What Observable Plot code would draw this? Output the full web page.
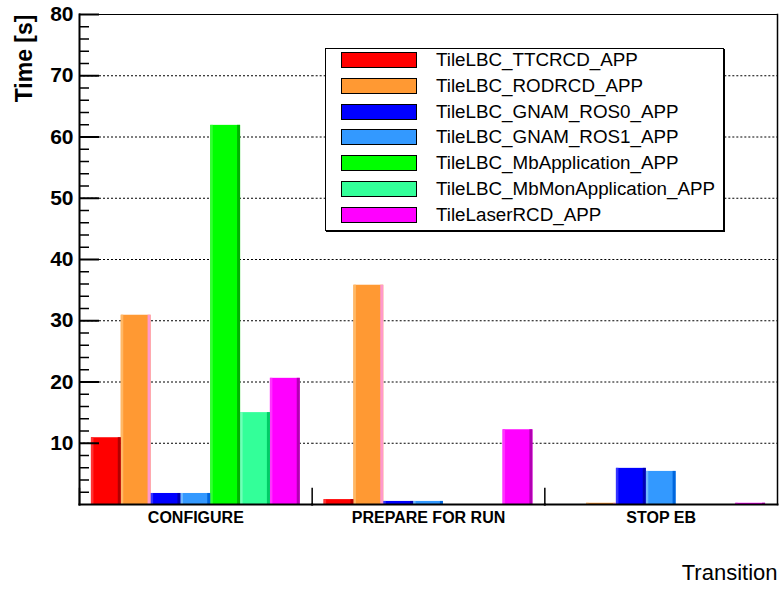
<!DOCTYPE html>
<html><head><meta charset="utf-8">
<script src="https://cdn.jsdelivr.net/npm/d3@7"></script>
<script src="https://cdn.jsdelivr.net/npm/@observablehq/plot@0.6"></script>
<style>
body{margin:0;background:#fff;font-family:"Liberation Sans",Arial,sans-serif}
#wrap{position:relative;width:782px;height:589px}
#legend{position:absolute;left:325px;top:48px;width:397px;height:181px;border:1px solid #000;box-shadow:1px 1px 0 #000;background:#fff}
.sw{position:absolute;left:15px;width:74px;height:14px;border:1px solid #000}
.lab{position:absolute;left:110px;font-size:18.8px;line-height:20px;white-space:nowrap;color:#000}
</style>
</head><body>
<div id="wrap"><div id="chart"></div><div id="legend"></div></div>
<script>
const categories = ["CONFIGURE", "PREPARE FOR RUN", "STOP EB"];
const series = ["TileLBC_TTCRCD_APP", "TileLBC_RODRCD_APP", "TileLBC_GNAM_ROS0_APP", "TileLBC_GNAM_ROS1_APP", "TileLBC_MbApplication_APP", "TileLBC_MbMonApplication_APP", "TileLaserRCD_APP"];
const ttcrcd = [10.9, 0.8, 0];
const rodrcd = [30.9, 35.8, 0.2];
const gnamRos0 = [1.8, 0.5, 5.9];
const gnamRos1 = [1.8, 0.5, 5.4];
const mbApplication = [61.9, 0, 0];
const mbMonApplication = [15.0, 0, 0];
const laserRcd = [20.6, 12.2, 0.2];
const baseColors = ["#ff0000", "#ff9933", "#0000ff", "#3399ff", "#00ff00", "#33ff99", "#ff00ff"];
const lightColors = ["#ff3333", "#ffb866", "#3333ff", "#70b8ff", "#33ff33", "#70ffb8", "#ff33ff"];
const darkColors = ["#b20000", "#ff99cc", "#0000b2", "#0066dd", "#00b200", "#00cc66", "#b200b2"];
const majorTicks = [10, 20, 30, 40, 50, 60, 70, 80];
const minorTicks = d3.range(2, 80, 2).filter(v => v % 10 !== 0);

const values = [ttcrcd, rodrcd, gnamRos0, gnamRos1, mbApplication, mbMonApplication, laserRcd];
const rows = categories.flatMap((c, ci) => series.map((s, si) => ({
  category: c, series: s, value: values[si][ci],
  base: baseColors[si], light: lightColors[si], dark: darkColors[si]
})));

const W = 782, H = 589, ML = 79, MR = 5, MT = 14, MB = 85;
const padOuter = 0.4;
const facetW = (W - ML - MR) / categories.length;
const plotH = H - MT - MB;
const bandW = facetW / (series.length + 2 * padOuter);
const font = "'Liberation Sans', Arial, Helvetica, sans-serif";
const firstCat = () => categories[0];

const chart = Plot.plot({
  width: W, height: H,
  marginLeft: ML, marginRight: MR, marginTop: MT, marginBottom: MB,
  style: {fontFamily: font, background: "white", color: "#000"},
  fx: {domain: categories, padding: 0, round: false},
  x: {domain: series, paddingInner: 0, paddingOuter: padOuter, round: false, axis: null},
  y: {domain: [0, 80]},
  color: {type: "identity"},
  marks: [
    Plot.ruleY(majorTicks, {y: d => d, stroke: "#000", strokeWidth: 1, strokeDasharray: "2,2"}),
    Plot.barY(rows, {fx: "category", x: "series", y: "value", fill: "base"}),
    Plot.barY(rows, {fx: "category", x: "series", y: "value", fill: "light", insetRight: bandW - 2.5}),
    Plot.barY(rows, {fx: "category", x: "series", y: "value", fill: "dark", insetLeft: bandW - 3}),
    Plot.ruleY(majorTicks, {fx: firstCat, y: d => d, stroke: "#000", strokeWidth: 2, insetRight: facetW - 20}),
    Plot.ruleY(minorTicks, {fx: firstCat, y: d => d, stroke: "#000", strokeWidth: 1.5, insetRight: facetW - 10}),
    Plot.frame({anchor: "top", stroke: "#000", strokeWidth: 1}),
    Plot.frame({anchor: "bottom", stroke: "#000", strokeWidth: 2}),
    Plot.frame({anchor: "left", stroke: "#000", strokeWidth: 2, facetAnchor: "left"}),
    Plot.frame({anchor: "right", stroke: "#000", strokeWidth: 1.5, facetAnchor: "right"}),
    Plot.frame({anchor: "left", stroke: "#000", strokeWidth: 1.5, insetTop: plotH - 16}),
    Plot.axisY({ticks: majorTicks, anchor: "left", tickSize: 0, tickPadding: 6, fontSize: 21, fontWeight: "bold", label: null}),
    Plot.axisFx({anchor: "bottom", tickSize: 0, tickPadding: 7, fontSize: 16, fontWeight: "bold", label: null}),
    Plot.text(["Time [s]"], {text: d => d, frameAnchor: "top-left", rotate: -90, textAnchor: "end", lineAnchor: "middle", dx: -55, fontSize: 23, fontWeight: "bold", facetAnchor: "left"}),
    Plot.text(["Transition"], {text: d => d, frameAnchor: "bottom-right", textAnchor: "end", lineAnchor: "middle", dy: 68, fontSize: 22, facetAnchor: "right"})
  ]
});
document.getElementById("chart").appendChild(chart);

const legend = document.getElementById("legend");
const rowStep = 25.8;
series.forEach((s, i) => {
  const sw = document.createElement("div");
  sw.className = "sw";
  sw.style.top = (3 + i * rowStep) + "px";
  sw.style.background = baseColors[i];
  legend.appendChild(sw);
  const lab = document.createElement("div");
  lab.className = "lab";
  lab.style.top = (1 + i * rowStep) + "px";
  lab.textContent = s;
  legend.appendChild(lab);
});
</script>
</body></html>
